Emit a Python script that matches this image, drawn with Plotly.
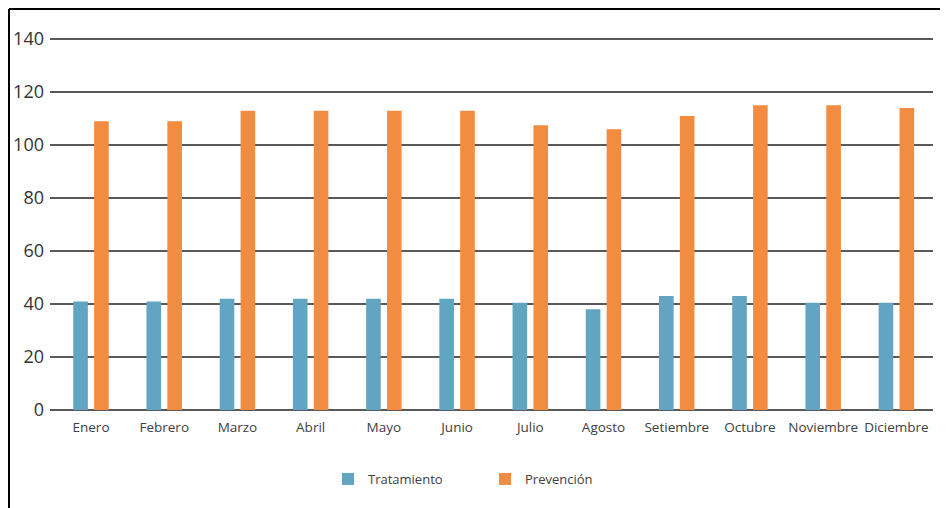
import plotly.graph_objects as go

months = ["Enero", "Febrero", "Marzo", "Abril", "Mayo", "Junio", "Julio",
          "Agosto", "Setiembre", "Octubre", "Noviembre", "Diciembre"]
tratamiento = [41, 41, 42, 42, 42, 42, 40.5, 38, 43, 43, 40.5, 40.5]
prevencion = [109, 109, 113, 113, 113, 113, 107.5, 106, 111, 115, 115, 114]
y_ticks = [0, 20, 40, 60, 80, 100, 120, 140]

# page has an 8px body margin, so the figure is drawn 8px in from the window edge
OFF = 8
W, H = 948 - OFF, 508 - OFF
L, R, T, B = 50 - OFF, 948 - 933, 37 - OFF, 508 - 410
pw, ph = W - L - R, H - T - B

fig = go.Figure()
fig.add_trace(go.Bar(name="Tratamiento", x=months, y=tratamiento,
                     marker=dict(color="#62A5C2", line=dict(width=0))))
fig.add_trace(go.Bar(name="Prevención", x=months, y=prevencion,
                     marker=dict(color="#F28C40", line=dict(width=0))))

def px_x(p):
    return (p - OFF - L) / pw

def px_y(p):
    return (H - B - (p - OFF)) / ph

frame = dict(color="black", width=2)
fig.update_layout(
    width=W, height=H,
    margin=dict(l=L, r=R, t=T, b=B, autoexpand=False),
    paper_bgcolor="white", plot_bgcolor="white",
    barmode="group", bargap=0.43, bargroupgap=0.3,
    font=dict(family="Open Sans", color="#404040"),
    showlegend=True,
    legend=dict(orientation="h", x=px_x(485), xanchor="center", y=px_y(479), yanchor="middle",
                font=dict(size=13, color="#404040"), itemwidth=30, entrywidth=112,
                traceorder="normal"),
    xaxis=dict(range=[-0.56, 11.5], showgrid=False, showline=False, ticks="",
               automargin=False, tickangle=0,
               tickfont=dict(size=13.5, color="#404040"), ticklabelstandoff=7),
    yaxis=dict(range=[0, 140.8], tickvals=y_ticks, showgrid=True, gridcolor="#595959",
               gridwidth=2, zeroline=True, zerolinecolor="#595959", zerolinewidth=2,
               showline=False, ticks="", ticklabelstandoff=5, automargin=False,
               tickfont=dict(size=18, color="#333333")),
    shapes=[
        dict(type="line", xref="paper", yref="paper",
             x0=px_x(9), x1=px_x(960), y0=px_y(9), y1=px_y(9), line=frame, layer="above"),
        dict(type="line", xref="paper", yref="paper",
             x0=px_x(9), x1=px_x(9), y0=px_y(9), y1=px_y(520), line=frame, layer="above"),
    ],
)

fig.write_html("out.html")
